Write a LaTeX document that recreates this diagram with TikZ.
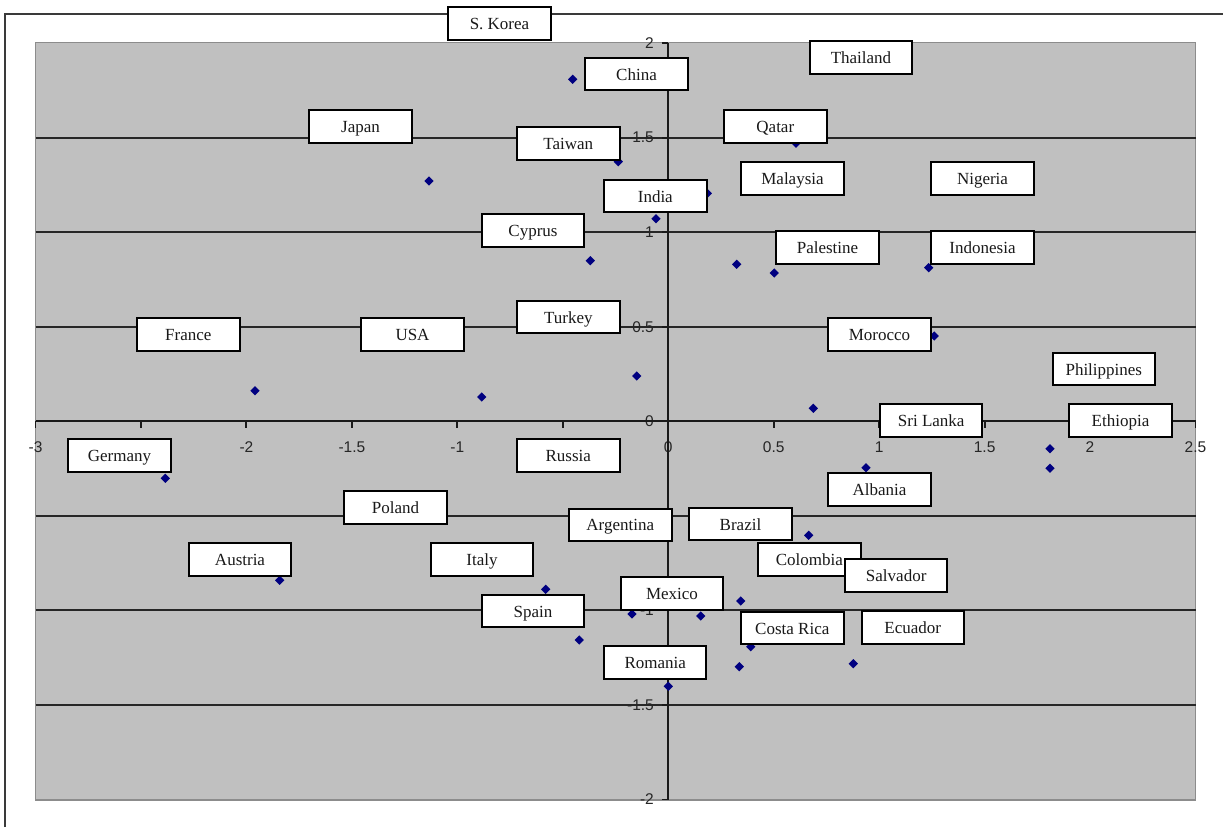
\documentclass[tikz,border=0pt]{standalone}
\usepackage{fontspec}
\setmainfont{Liberation Serif}
\newfontfamily\axisfont{Liberation Sans}
\usetikzlibrary{shapes.geometric}
\definecolor{plotgray}{HTML}{C0C0C0}
\definecolor{plotedge}{HTML}{8C8C8C}
\definecolor{ptnavy}{HTML}{000080}
\definecolor{framegray}{HTML}{3A3A3A}
\tikzset{
  lbl/.style={draw=black, line width=2pt, fill=white, minimum width=102.5pt, minimum height=32.5pt,
    inner sep=0pt, text height=12pt, text depth=0pt, font=\fontsize{17}{17}\selectfont, text=black!90},
  pt/.style={diamond, fill=ptnavy, inner sep=0pt, minimum size=9.5pt},
  ticklbl/.style={inner sep=0pt, font=\axisfont\fontsize{15.5}{15.5}\selectfont, text=black!85},
  gridln/.style={line width=1.9pt, black!85},
  axisln/.style={line width=1.9pt, black!90},
}
\begin{document}
\begin{tikzpicture}[x=1pt,y=-1pt]
\useasboundingbox (0,0) rectangle (1223,827);
% outer frame (top and left edges)
\draw[framegray, line width=1.9pt] (5,827) -- (5,14.3) -- (1223,14.3);
% plot area
\draw[plotedge, fill=plotgray, line width=1.2pt] (35.5,42.5) rectangle (1195.5,800);
% x tick labels (those fully hidden behind boxes are omitted)
\foreach \i/\v/\X in {1/-3/35.5, 3/-2/246.4, 4/-1.5/351.9, 5/-1/457.3,
  7/0/668.2, 8/0.5/773.7, 9/1/879.1, 10/1.5/984.6, 11/2/1090, 12/2.5/1195.5}
  \node[ticklbl] (xt\i) at (\X,447) {\v};
% y tick labels
\foreach \i/\v/\Y in {1/2/43.1, 2/1.5/137.7, 3/1/232.2, 4/0.5/326.8, 5/0/421.3,
  7/-1/610.4, 8/-1.5/705, 9/-2/799.5}
  \node[ticklbl, anchor=east] (yt\i) at (654,\Y) {\v};
% gridlines
\foreach \Y in {137.7, 232.2, 326.8, 515.9, 610.4, 705}
  \draw[gridln] (35.5,\Y) -- (1195.5,\Y);
% axes
\coordinate (xa) at (35.5,421.3);
\coordinate (xb) at (1195.5,421.3);
\coordinate (ya) at (668.2,43.1);
\coordinate (yb) at (668.2,799.5);
\draw[axisln] (xa) -- (xb);
\draw[axisln] (ya) -- (yb);
\foreach \X in {35.5, 140.9, 246.4, 351.9, 457.3, 562.8, 668.2, 773.7, 879.1, 984.6, 1090, 1195.5}
  \draw[axisln] (\X,421.3) -- (\X,427.5);
\foreach \Y in {43.1, 137.7, 232.2, 326.8, 421.3, 515.9, 610.4, 705, 799.5}
  \draw[axisln] (662.3,\Y) -- (668.2,\Y);
% data points
\foreach \n/\x/\y in {1/572.7/79.3, 2/429/181, 3/618.3/161.7, 4/796/143.3, 5/707.3/193.3,
  6/656/218.7, 7/590.3/260.7, 8/736.7/264.3, 9/774.3/273, 10/928.7/267.7, 11/934.3/336,
  12/636.7/376, 13/481.7/397, 14/255/390.7, 15/813.3/408.3, 16/165.3/478.3, 17/866/467.7,
  18/1050/448.7, 19/1050/468.3, 20/808.7/535.3, 21/279.7/580.3, 22/545.7/589.3,
  23/740.7/601, 24/632/614, 25/700.7/616, 26/579.3/640, 27/750.7/646.7, 28/739.3/666.7,
  29/853.3/663.7, 30/668.3/686.3}
  \node[pt] (p\n) at (\x,\y) {};
% labels
\node[lbl] (skorea) at (499.5,23.3) {S. Korea};
\node[lbl] (china) at (636.5,74.2) {China};
\node[lbl] (thailand) at (861,57.7) {Thailand};
\node[lbl] (japan) at (360.5,126.3) {Japan};
\node[lbl] (taiwan) at (568.3,143.3) {Taiwan};
\node[lbl] (qatar) at (775.3,126.5) {Qatar};
\node[lbl] (malaysia) at (792.5,178.7) {Malaysia};
\node[lbl] (nigeria) at (982.5,178.7) {Nigeria};
\node[lbl] (india) at (655.3,196.2) {India};
\node[lbl] (cyprus) at (533,230.7) {Cyprus};
\node[lbl] (palestine) at (827.5,247.3) {Palestine};
\node[lbl] (indonesia) at (982.5,247.5) {Indonesia};
\node[lbl] (turkey) at (568.3,317) {Turkey};
\node[lbl] (france) at (188.3,334.7) {France};
\node[lbl] (usa) at (412.5,334.7) {USA};
\node[lbl] (morocco) at (879.5,334.5) {Morocco};
\node[lbl] (philippines) at (1103.8,369) {Philippines};
\node[lbl] (srilanka) at (931.2,420.3) {Sri Lanka};
\node[lbl] (ethiopia) at (1120.5,420.3) {Ethiopia};
\node[lbl] (germany) at (119.5,455.3) {Germany};
\node[lbl] (russia) at (568.3,455.3) {Russia};
\node[lbl] (albania) at (879.5,489.3) {Albania};
\node[lbl] (poland) at (395.5,507.5) {Poland};
\node[lbl] (argentina) at (620.3,524.8) {Argentina};
\node[lbl] (brazil) at (740.5,524) {Brazil};
\node[lbl] (austria) at (240,559.3) {Austria};
\node[lbl] (italy) at (482,559.3) {Italy};
\node[lbl] (colombia) at (809.3,559.3) {Colombia};
\node[lbl] (salvador) at (896.2,575.4) {Salvador};
\node[lbl] (mexico) at (672,593.5) {Mexico};
\node[lbl] (spain) at (533,611.2) {Spain};
\node[lbl] (costarica) at (792.3,628) {Costa Rica};
\node[lbl] (ecuador) at (912.8,627.6) {Ecuador};
\node[lbl] (romania) at (655.2,662.3) {Romania};
\end{tikzpicture}
\end{document}
